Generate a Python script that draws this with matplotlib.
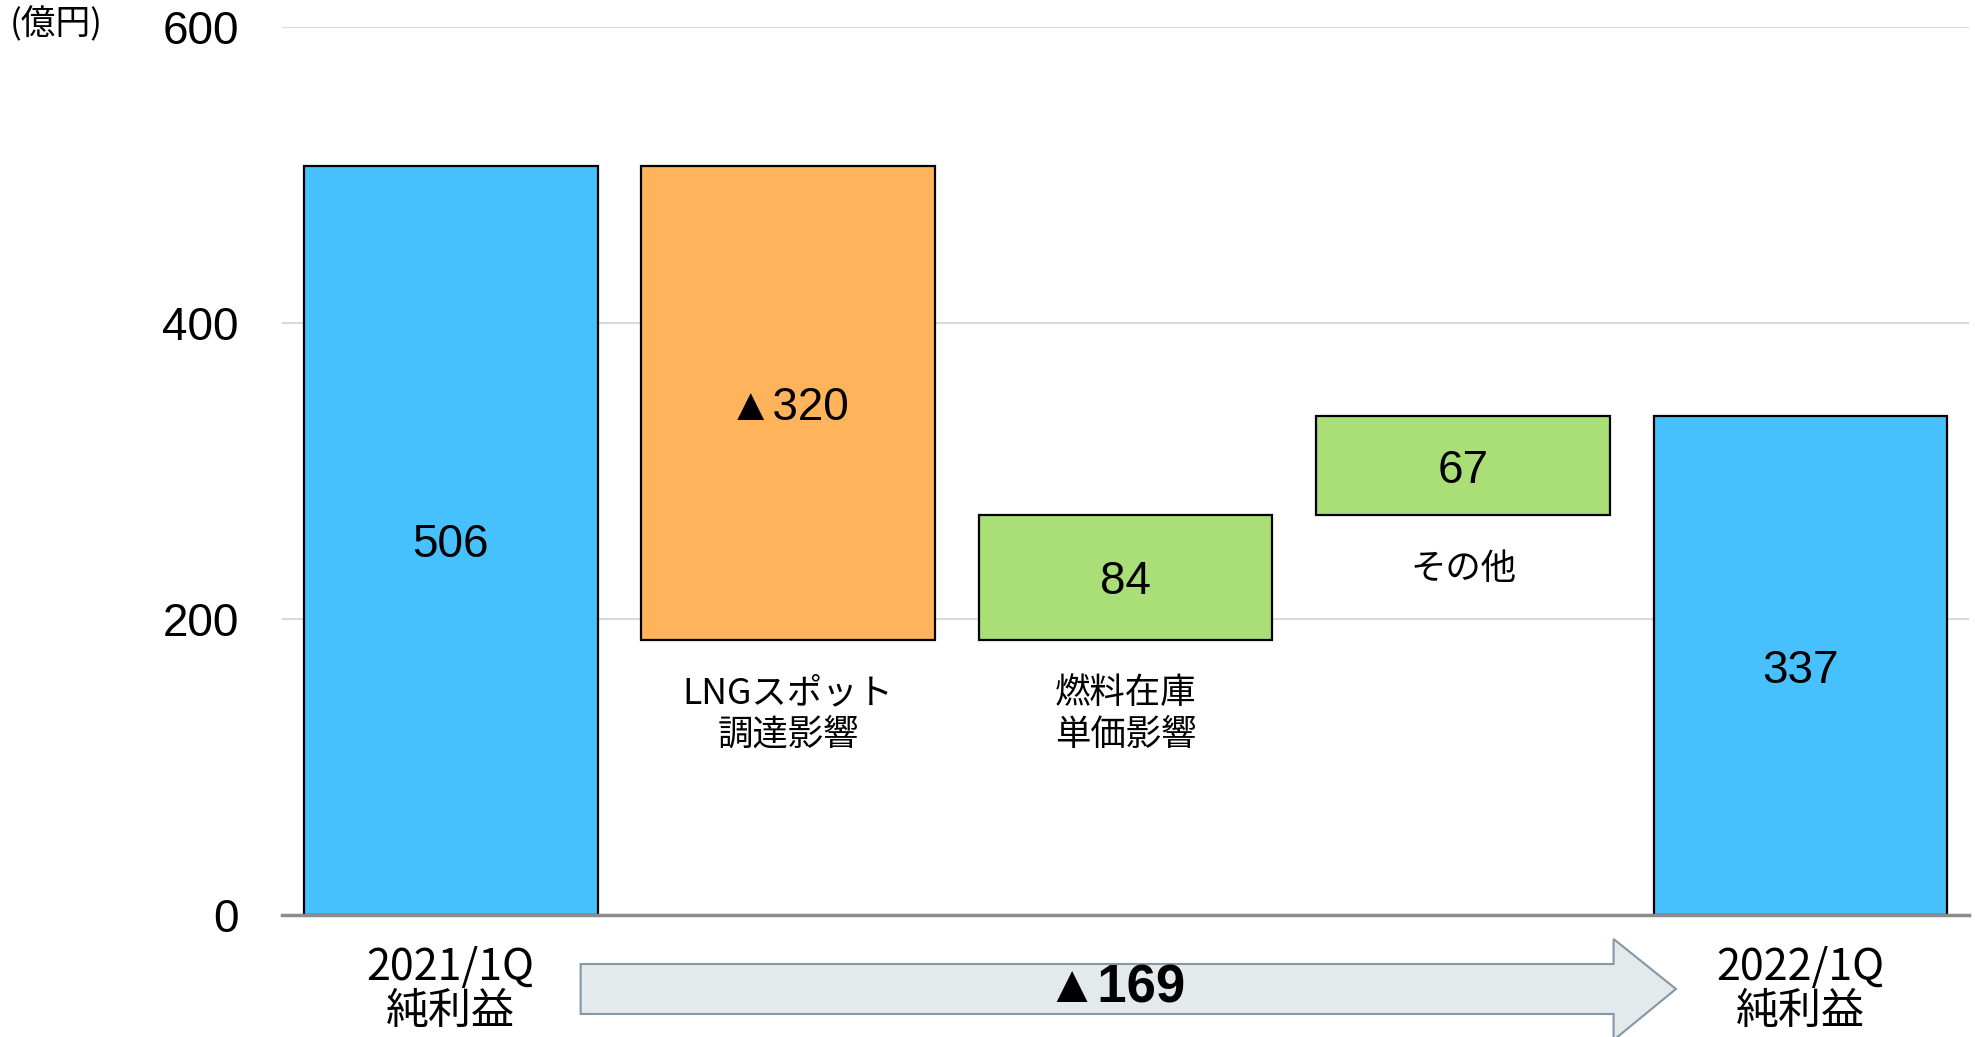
import numpy as np
import matplotlib.pyplot as plt
from matplotlib.patches import Polygon

# data
categories = ['2021/1Q\n純利益', 'LNGスポット\n調達影響', '燃料在庫\n単価影響', 'その他', '2022/1Q\n純利益']
changes = [506, -320, 84, 67, 337]
bar_labels = ['506', '▲320', '84', '67', '337']
kinds = ['total', 'down', 'up', 'up', 'total']
total_change_label = '▲169'

colors = {'total': '#47C1FE', 'down': '#FFB35B', 'up': '#A9DF76'}
jp_font = ['Noto Sans CJK JP', 'DejaVu Sans']
num_font = ['Liberation Sans', 'DejaVu Sans']

# waterfall bottoms / heights
bottoms, heights = [], []
running = 0
for v, k in zip(changes, kinds):
    if k == 'total':
        bottoms.append(0)
        heights.append(v)
        running = v
    else:
        new = running + v
        bottoms.append(min(running, new))
        heights.append(abs(v))
        running = new

x = np.arange(len(categories))

fig = plt.figure(figsize=(19.75, 10.37), dpi=100)
ax = fig.add_axes([0.1428, 0.1176, 0.997 - 0.1428, 0.9744 - 0.1176])

ax.bar(x, heights, bottom=bottoms, width=0.87,
       color=[colors[k] for k in kinds], edgecolor='black', linewidth=1.6, zorder=3)

ax.set_xlim(-0.5, 4.5)
ax.set_ylim(0, 600)
ax.set_yticks([0, 200, 400, 600])
ax.yaxis.grid(True, color='#D9D9D9', linewidth=1.5, zorder=0)
ax.set_axisbelow(True)
for s in ['top', 'right', 'left']:
    ax.spines[s].set_visible(False)
ax.spines['bottom'].set_color('#8C8C8C')
ax.spines['bottom'].set_linewidth(2.5)
ax.spines['bottom'].set_zorder(4)
ax.tick_params(axis='y', length=0, pad=31, labelsize=33)
for t in ax.get_yticklabels():
    t.set_family(num_font)

# x tick labels only for the two totals
ax.set_xticks([0, 4])
ax.set_xticklabels([categories[0], categories[4]], family=jp_font, fontsize=31, linespacing=1.0)
ax.tick_params(axis='x', length=0, pad=22)

# values inside bars
for xi, b, h, lab in zip(x, bottoms, heights, bar_labels):
    ax.text(xi, b + h / 2, lab, ha='center', va='center_baseline', fontsize=33,
            family=num_font, zorder=5)

# labels under the change bars
for xi, b, k, cat in zip(x, bottoms, kinds, categories):
    if k != 'total':
        ax.text(xi, b - 24, cat, ha='center', va='top', fontsize=25.5,
                family=jp_font, linespacing=1.2, zorder=5)

# unit label
fig.text(0.005, 0.976, '(億円)', ha='left', va='center', fontsize=25, family=jp_font)

# big arrow below the axis
x0, xh, xt = 0.294, 0.817, 0.8486
yb0, yb1, yh0, yh1 = 0.0222, 0.0704, -0.003, 0.0945
ym = (yb0 + yb1) / 2
arrow = Polygon([(x0, yb0), (xh, yb0), (xh, yh0), (xt, ym), (xh, yh1), (xh, yb1), (x0, yb1)],
                closed=True, transform=fig.transFigure, facecolor='#E4E9EC',
                edgecolor='#8497A6', linewidth=1.5)
fig.patches.append(arrow)
fig.text(0.565, ym, total_change_label, ha='center', va='center',
         fontsize=38, fontweight='bold', family=num_font)

fig.savefig('out.png', dpi=100)
